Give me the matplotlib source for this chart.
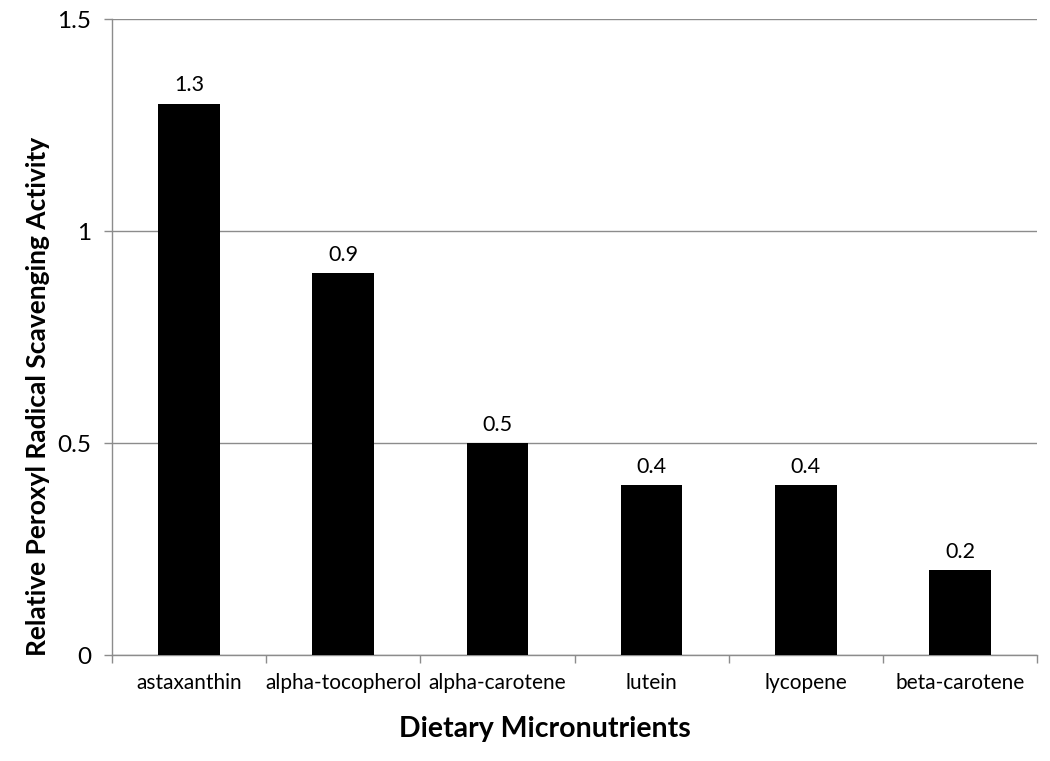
import matplotlib
matplotlib.use("Agg")
import matplotlib.pyplot as plt
import numpy as np

categories = ["astaxanthin", "alpha-tocopherol", "alpha-carotene", "lutein", "lycopene", "beta-carotene"]
values = [1.3, 0.9, 0.5, 0.4, 0.4, 0.2]
yticks = [0, 0.5, 1, 1.5]
ytick_labels = ["0", "0.5", "1", "1.5"]

plt.rcParams['font.family'] = ['Lato', 'DejaVu Sans']

W, H = 1050, 761
fig = plt.figure(figsize=(W/100, H/100), dpi=100)
ax = fig.add_axes([112/W, 1-655/H, (1037-112)/W, (655-19)/H])

x = np.arange(len(categories))
ax.bar(x, values, width=0.4, color='black', zorder=3)
for xi, v in zip(x, values):
    ax.annotate(f"{v}", (xi, v), xytext=(0, 6), textcoords='offset points',
                ha='center', va='bottom', fontsize=15.5, color='black')

ax.set_xlim(-0.5, len(categories)-0.5)
ax.set_ylim(0, 1.5)
ax.set_yticks(yticks)
ax.set_yticklabels(ytick_labels, fontsize=17.5)
ax.yaxis.grid(True, color='#8c8c8c', linewidth=1, zorder=0)
ax.set_axisbelow(True)

ax.set_xticks(x)
ax.set_xticklabels(categories, fontsize=15)
ax.tick_params(axis='x', length=0, pad=13)
ax.set_xticks(np.arange(len(categories)+1)-0.5, minor=True)
ax.tick_params(axis='x', which='minor', length=6, color='#8c8c8c', width=1)
ax.tick_params(axis='y', length=6, color='#8c8c8c', width=1, pad=9)

for s in ['top', 'right']:
    ax.spines[s].set_visible(False)
for s in ['left', 'bottom']:
    ax.spines[s].set_color('#8c8c8c')
    ax.spines[s].set_linewidth(1)

fig.text(545/W, 1-729/H, "Dietary Micronutrients", ha='center', va='center',
         fontsize=20.5, fontweight='bold')
fig.text(38/W, 1-396/H, "Relative Peroxyl Radical Scavenging Activity", ha='center', va='center',
         rotation=90, fontsize=19, fontweight='bold')

fig.savefig("out.png", dpi=100)
